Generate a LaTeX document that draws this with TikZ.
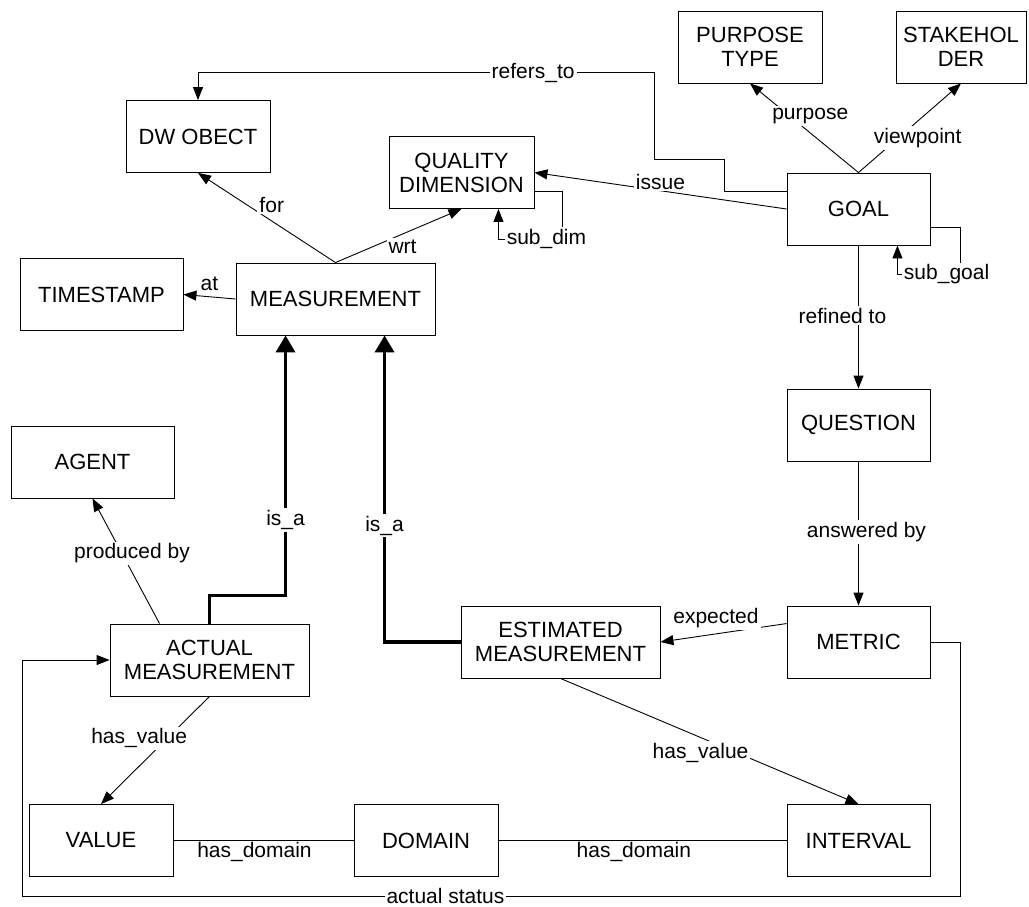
\documentclass[tikz,border=0pt]{standalone}
\usepackage{fontspec}
\setmainfont{Liberation Sans}
\usetikzlibrary{arrows.meta,calc}
\newcommand\boxfont{\fontsize{22}{24}\selectfont}
\newcommand\lblfont{\fontsize{21}{23}\selectfont}

\begin{document}
\begin{tikzpicture}[x=1pt,y=-1pt,
  box/.style={draw, line width=0.9pt, inner sep=0pt, align=center, font=\boxfont, minimum height=72pt},
  lbl/.style={fill=white, inner sep=2pt, font=\lblfont},
  sidelbl/.style={inner sep=1pt, font=\lblfont},
  rel/.style={line width=0.9pt, -{Triangle[length=13pt,width=10pt]}},
  plain/.style={line width=0.9pt},
  isa/.style={line width=3.8pt, -{Triangle[length=17pt,width=19pt]}}]
\useasboundingbox (0,0) rectangle (1029,906);

% entities
\node[box, minimum width=144pt] (dw) at (198,136.5) {DW OBECT};
\node[box, minimum width=145pt] (qd) at (461.5,172.5) {QUALITY\\DIMENSION};
\node[box, minimum width=163pt] (ts) at (101.5,294.5) {TIMESTAMP};
\node[box, minimum width=199pt] (meas) at (335.5,299) {MEASUREMENT};
\node[box, minimum width=144pt] (pt) at (750,47) {PURPOSE\\TYPE};
\node[box, minimum width=130pt] (sh) at (961,47) {STAKEHOL\\DER};
\node[box, minimum width=143pt] (goal) at (858.5,209) {GOAL};
\node[box, minimum width=143pt] (q) at (858.5,425) {QUESTION};
\node[box, minimum width=163pt] (agent) at (92.5,462) {AGENT};
\node[box, minimum width=199pt] (actual) at (209.5,660) {ACTUAL\\MEASUREMENT};
\node[box, minimum width=199pt] (est) at (560.5,642) {ESTIMATED\\MEASUREMENT};
\node[box, minimum width=143pt] (metric) at (858.5,642) {METRIC};
\node[box, minimum width=144pt] (value) at (101,840.5) {VALUE};
\node[box, minimum width=144pt] (domain) at (426,840.5) {DOMAIN};
\node[box, minimum width=143pt] (interval) at (858.5,840.5) {INTERVAL};

% relationships around GOAL
\draw[rel] ($(goal.north west)+(0,19)$) -- ++(-62,0) -- ++(0,-32) -- ++(-70,0) -- ++(0,-87)
  -| node[lbl,pos=0.133]{refers\_to} (dw.north);
\draw[rel] (goal.west) -- node[lbl,pos=0.5,yshift=9pt]{issue} (qd.east);
\draw[rel] (goal.north) -- node[lbl,pos=0.5,xshift=6pt,yshift=12pt]{purpose} (pt.south);
\draw[rel] (goal.north) -- node[lbl,pos=0.5,xshift=8pt,yshift=-10pt]{viewpoint} (sh.south);
\draw[rel] ($(goal.north east)+(0,55)$) -- ++(30,0) -- ++(0,47)
  -- node[lbl,pos=0.22]{sub\_goal} ++(-63,0) -- ($(goal.south east)+(-33,0)$);
\draw[rel] (goal.south) -- node[lbl,pos=0.49,xshift=-16pt]{refined to} (q.north);
\draw[rel] (q.south) -- node[lbl,pos=0.49,xshift=8pt]{answered by} (metric.north);

% quality dimension hierarchy
\draw[rel] ($(qd.north east)+(0,55)$) -- ++(28,0) -- ++(0,48)
  -- node[lbl,pos=0.25]{sub\_dim} ++(-64,0) -- ($(qd.south east)+(-36,0)$);

% measurement relationships
\draw[rel] (meas.west) -- node[sidelbl,anchor=south,pos=0.5,yshift=5pt]{at} (ts.east);
\draw[rel] (meas.north) -- node[lbl,pos=0.5,xshift=5pt,yshift=13pt]{for} (dw.south);
\draw[rel] (meas.north) -- node[lbl,pos=0.5,xshift=4pt,yshift=-11pt]{wrt} (qd.south);

% specialisations
\draw[isa] (actual.north) -- ++(0,-28) -| node[lbl,pos=0.645]{is\_a} ($(meas.south west)+(50,0)$);
\draw[isa] (est.west) -| node[lbl,pos=0.69]{is\_a} ($(meas.south west)+(149,0)$);

% actual and estimated measurements
\draw[rel] ($(actual.north west)+(50,0)$) -- node[lbl,pos=0.56,xshift=10pt]{produced by} (agent.south);
\draw[rel] ($(metric.north west)+(0,18)$) -- node[lbl,pos=0.56,yshift=16pt]{expected} (est.east);
\draw[rel] (actual.south) -- node[lbl,pos=0.39,xshift=-28pt]{has\_value} (value.north);
\draw[rel] (est.south) -- node[lbl,pos=0.47,yshift=-15pt]{has\_value} (interval.north);

% domains
\draw[plain] (value.east) -- node[sidelbl,anchor=north,pos=0.45]{has\_domain} (domain.west);
\draw[plain] (domain.east) -- node[sidelbl,anchor=north,pos=0.47]{has\_domain} (interval.west);

% actual status loop
\draw[rel] (metric.east) -- ++(30,0) -- ++(0,254)
  -- node[lbl,pos=0.549]{actual status} ++(-938,0) |- (actual.west);
\end{tikzpicture}
\end{document}
